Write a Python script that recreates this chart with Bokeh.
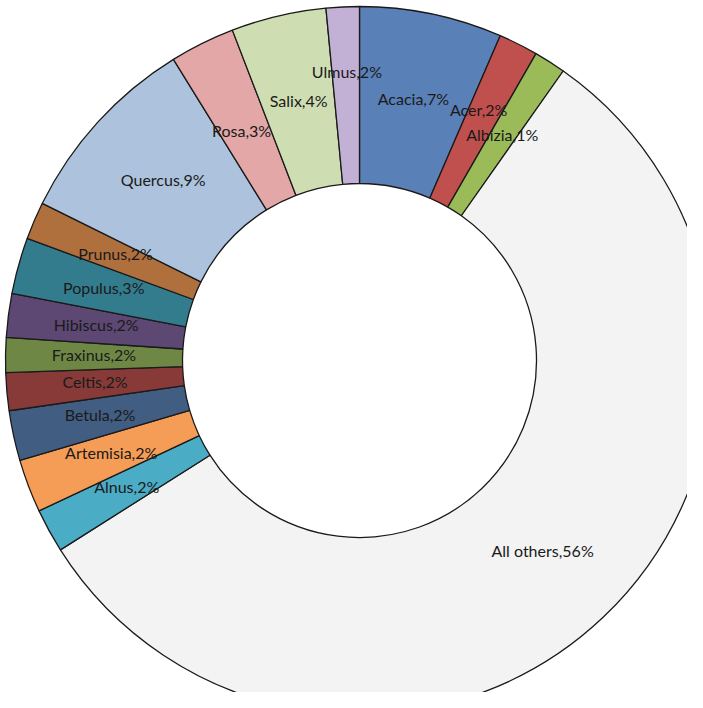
import numpy as np
from bokeh.plotting import figure
from bokeh.models import Range1d, ColumnDataSource
from bokeh.core.properties import value
from bokeh.embed import file_html
from bokeh.resources import INLINE

# ---- data (clockwise from 12 o'clock) ----
species = ["Acacia", "Acer", "Albizia", "All others", "Alnus", "Artemisia",
           "Betula", "Celtis", "Fraxinus", "Hibiscus", "Populus", "Prunus",
           "Quercus", "Rosa", "Salix", "Ulmus"]
shares = [6.5, 1.8, 1.45, 56.2, 2.0, 2.43, 2.28, 1.72, 1.58, 2.0, 2.56, 1.72,
          8.86, 2.96, 4.33, 1.51]
pct_labels = [7, 2, 1, 56, 2, 2, 2, 2, 2, 2, 3, 2, 9, 3, 4, 2]

# ---- style ----
colors = ["#5a80b8", "#c0504d", "#9bbb59", "#f3f3f3", "#4bacc6", "#f59d56",
          "#415d82", "#873a38", "#6e8745", "#5d4773", "#337c8e", "#b0703e",
          "#adc2dd", "#e2a7a6", "#cfdeb2", "#c3b1d5"]
# small vertical nudges (px) for crowded labels
label_nudge = [0, 12, 0, 0, 0, 0, 0, 0, 0, 0, 0, 0, 0, -10, 0, 22]
TEXT_LIFT = 2

W, H = 687, 692
CX, CY = 359, H - 360
R_OUT, R_IN = 354, 177

s = np.array(shares, dtype=float)
frac = s / s.sum()
ends = np.cumsum(frac) * 360.0
starts = ends - frac * 360.0
mids = (starts + ends) / 2.0

start_rad = np.deg2rad(90.0 - starts)
end_rad = np.deg2rad(90.0 - ends)
mid_rad = np.deg2rad(90.0 - mids)
r_lab = (R_OUT + R_IN) / 2.0

src = ColumnDataSource(dict(
    x=[CX] * len(species), y=[CY] * len(species),
    start=list(start_rad), end=list(end_rad), color=colors,
))

texts = [f"{n},{p}%" for n, p in zip(species, pct_labels)]
lab_src = ColumnDataSource(dict(
    x=list(CX + r_lab * np.cos(mid_rad)),
    y=list(CY + r_lab * np.sin(mid_rad) + np.array(label_nudge) + TEXT_LIFT),
    text=texts,
))

p = figure(width=W, height=H, output_backend="svg", toolbar_location=None,
           x_range=Range1d(0, W), y_range=Range1d(0, H), min_border=0)
p.axis.visible = False
p.grid.visible = False
p.outline_line_color = None
p.background_fill_color = "white"

p.annular_wedge(x="x", y="y", inner_radius=R_IN, outer_radius=R_OUT,
                start_angle="start", end_angle="end", direction="clock",
                fill_color="color", line_color="#1a1a1a", line_width=1.3,
                source=src)

p.text(x="x", y="y", text="text", source=lab_src,
       text_align="center", text_baseline="middle",
       text_font=value("Lato"), text_font_size="16px", text_color="#1a1a1a")

open("out.html", "w").write(file_html(p, INLINE))
